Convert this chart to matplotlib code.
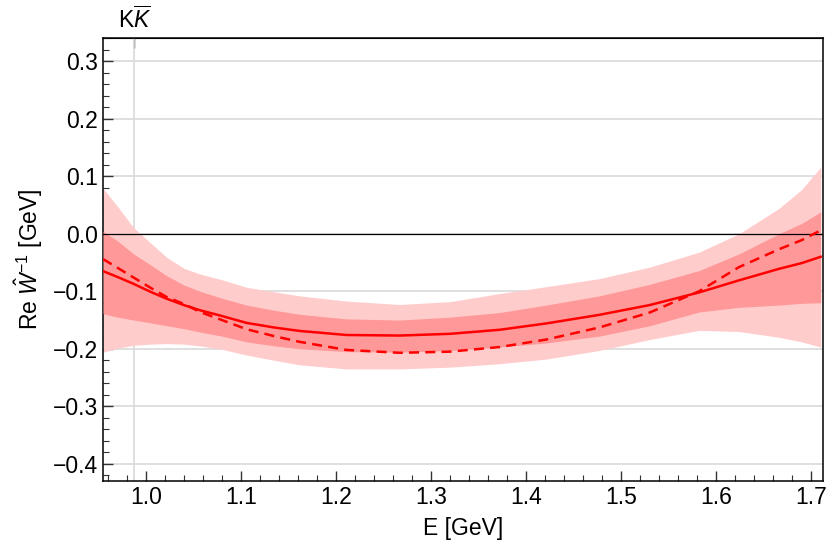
import numpy as np
import matplotlib
matplotlib.use('Agg')
from matplotlib import pyplot as plt
from matplotlib.ticker import MultipleLocator

plt.rcParams['font.family'] = ['Liberation Sans', 'DejaVu Sans']
plt.rcParams['mathtext.fontset'] = 'custom'
plt.rcParams['mathtext.rm'] = 'Liberation Sans'
plt.rcParams['mathtext.it'] = 'Liberation Sans:italic'
plt.rcParams['mathtext.bf'] = 'Liberation Sans:bold'

energy = [0.955, 0.97, 0.987, 1.005, 1.022, 1.04, 1.057, 1.08, 1.106, 1.135, 1.162,
          1.211, 1.267, 1.32, 1.372, 1.421, 1.477, 1.53, 1.582, 1.624, 1.666, 1.69, 1.71]

# central curves
re_w_solid = [-0.065, -0.075, -0.087, -0.101, -0.113, -0.124, -0.133, -0.143, -0.155,
              -0.163, -0.169, -0.176, -0.177, -0.174, -0.167, -0.156, -0.141, -0.124,
              -0.102, -0.081, -0.061, -0.051, -0.040]
re_w_dashed = [-0.044, -0.059, -0.076, -0.094, -0.110, -0.122, -0.136, -0.150, -0.166,
               -0.178, -0.188, -0.202, -0.207, -0.205, -0.197, -0.184, -0.163, -0.137,
               -0.100, -0.058, -0.027, -0.011, 0.006]

# inner band
inner_hi = [0.004, -0.012, -0.035, -0.054, -0.073, -0.089, -0.100, -0.112, -0.124,
            -0.133, -0.140, -0.148, -0.150, -0.145, -0.137, -0.124, -0.108, -0.088,
            -0.064, -0.035, 0.000, 0.018, 0.038]
inner_lo = [-0.139, -0.145, -0.150, -0.155, -0.160, -0.165, -0.171, -0.178, -0.188,
            -0.195, -0.200, -0.205, -0.206, -0.203, -0.197, -0.190, -0.178, -0.160,
            -0.136, -0.128, -0.124, -0.121, -0.120]

# outer band
outer_hi = [0.079, 0.048, 0.011, -0.016, -0.041, -0.060, -0.070, -0.080, -0.093,
            -0.101, -0.108, -0.117, -0.123, -0.118, -0.104, -0.092, -0.078, -0.058,
            -0.032, 0.000, 0.044, 0.077, 0.116]
outer_lo = [-0.206, -0.199, -0.194, -0.192, -0.191, -0.192, -0.195, -0.201, -0.211,
            -0.220, -0.228, -0.235, -0.235, -0.232, -0.226, -0.218, -0.203, -0.184,
            -0.168, -0.170, -0.180, -0.188, -0.197]

kk_threshold = 0.988

fig = plt.figure(figsize=(8.28, 5.52), dpi=100)
ax = fig.add_axes([0.1245, 0.1286, 0.869, 0.802])

ax.fill_between(energy, outer_lo, outer_hi, color='#ffcccc', lw=0, zorder=2)
ax.fill_between(energy, inner_lo, inner_hi, color='#ff9999', lw=0, zorder=3)
ax.plot(energy, re_w_solid, color='red', lw=1.8, zorder=5)
ax.plot(energy, re_w_dashed, color='red', lw=1.8, ls=(0, (4, 2.5)), zorder=5)

ax.axhline(0, color='black', lw=0.9, zorder=4)
ax.axvline(kk_threshold, color='#d9d9d9', lw=1.2, zorder=1)

ax.set_xlim(0.955, 1.712)
ax.set_ylim(-0.43, 0.34)

ax.xaxis.set_major_locator(MultipleLocator(0.1))
ax.xaxis.set_minor_locator(MultipleLocator(0.02))
ax.yaxis.set_major_locator(MultipleLocator(0.1))
ax.yaxis.set_minor_locator(MultipleLocator(0.02))
ax.grid(which='major', axis='y', color='#d9d9d9', lw=1.2, zorder=0)
ax.set_axisbelow(True)

ax.tick_params(which='major', direction='in', length=7, width=1, labelsize=16.5,
               top=False, right=False, colors='#333333', labelcolor='black')
ax.tick_params(which='minor', direction='in', length=4, width=0.8,
               top=False, right=False, colors='#333333')
ax.set_yticks(np.round(np.arange(-0.4, 0.31, 0.1), 1))
ax.set_yticklabels(['\u22120.4', '\u22120.3', '\u22120.2', '\u22120.1',
                    '0.0', '0.1', '0.2', '0.3'])
ax.set_xticks(np.round(np.arange(1.0, 1.71, 0.1), 1))
ax.set_xticklabels(['1.0', '1.1', '1.2', '1.3', '1.4', '1.5', '1.6', '1.7'])

for s in ax.spines.values():
    s.set_linewidth(1.1)
    s.set_color('black')

# threshold marker on top frame
sec = ax.secondary_xaxis('top')
sec.set_xticks([kk_threshold])
sec.set_xticklabels(['K$\\overline{K}$'], fontsize=16.5)
sec.tick_params(direction='in', length=7, width=1, pad=4, colors='#333333',
                labelcolor='black')

ax.set_xlabel('E [GeV]', fontsize=16.5, labelpad=6)
ax.set_ylabel('Re $\\hat{W}^{-1}$ [GeV]', fontsize=16.5, labelpad=6)

plt.savefig('out.png', dpi=100)
